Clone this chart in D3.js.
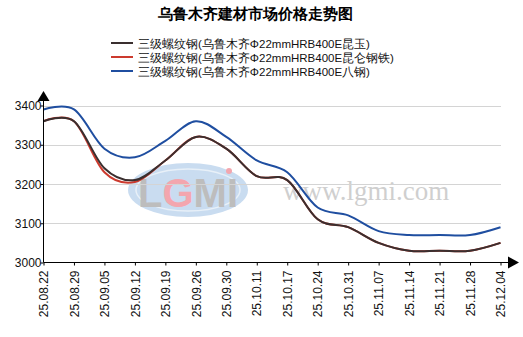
<!DOCTYPE html>
<html>
<head>
<meta charset="utf-8">
<script src="https://cdn.jsdelivr.net/npm/d3@7"></script>
<style>
  body { margin: 0; background: #fff; }
  svg { display: block; font-family: "Liberation Sans", Arial, sans-serif; }
</style>
</head>
<body>
<svg id="chart" width="523" height="337"></svg>
<script>
// dates on the x axis
const dates = ["25.08.22", "25.08.29", "25.09.05", "25.09.12", "25.09.19", "25.09.26",
  "25.09.30", "25.10.11", "25.10.17", "25.10.24", "25.10.31", "25.11.07",
  "25.11.14", "25.11.21", "25.11.28", "25.12.04"];

// series values (yuan/t)
const kunyu   = [3360, 3360, 3240, 3210, 3260, 3320, 3290, 3220, 3210, 3110, 3090, 3050, 3030, 3030, 3030, 3050];
const kunlun  = [3360, 3360, 3230, 3205, 3260, 3320, 3290, 3220, 3210, 3110, 3090, 3050, 3030, 3030, 3030, 3050];
const bagang  = [3390, 3390, 3290, 3268, 3310, 3360, 3320, 3260, 3230, 3140, 3120, 3080, 3070, 3070, 3070, 3090];

const yTicks = [3000, 3100, 3200, 3300, 3400];

const seriesNames = [
  "三级螺纹钢(乌鲁木齐Φ22mmHRB400E昆玉)",
  "三级螺纹钢(乌鲁木齐Φ22mmHRB400E昆仑钢铁)",
  "三级螺纹钢(乌鲁木齐Φ22mmHRB400E八钢)"
];
const seriesColors = ["#3a2f2f", "#cc3a2e", "#1f4ea0"];

const svg = d3.select("#chart");

const x = d3.scalePoint().domain(dates).range([43.5, 500.5]);
const y = d3.scaleLinear().domain([3000, 3400]).range([262.5, 105.5]);

// title
svg.append("text")
  .attr("x", 255).attr("y", 19)
  .attr("text-anchor", "middle")
  .style("font-size", "15px").style("font-weight", "bold")
  .text("乌鲁木齐建材市场价格走势图");

// legend
const lg = svg.append("g").attr("transform", "translate(111,43)");
seriesNames.forEach((name, i) => {
  lg.append("line")
    .attr("x1", 0).attr("x2", 22)
    .attr("y1", i * 14).attr("y2", i * 14)
    .attr("stroke", seriesColors[i]).attr("stroke-width", 2);
  lg.append("text")
    .attr("x", 27).attr("y", i * 14 + 4.5)
    .style("font-size", "11.5px").attr("fill", "#111")
    .text(name);
});

// watermark
const wm = svg.append("g");
wm.append("ellipse")
  .attr("cx", 188).attr("cy", 190).attr("rx", 60).attr("ry", 27)
  .attr("fill", "#c9dcf0");
wm.append("ellipse")
  .attr("cx", 188).attr("cy", 190).attr("rx", 52).attr("ry", 21)
  .attr("fill", "none").attr("stroke", "#e8f0f8").attr("stroke-width", 1.5);
const logo = wm.append("text")
  .attr("x", 188).attr("y", 207)
  .attr("text-anchor", "middle")
  .style("font-size", "40px").style("font-weight", "bold")
  .attr("fill", "#bdbdbd");
logo.append("tspan").text("L");
logo.append("tspan").attr("fill", "#f3a6ae").text("G");
logo.append("tspan").text("MI");
wm.append("circle").attr("cx", 229).attr("cy", 171).attr("r", 3).attr("fill", "#f3a6ae");
wm.append("text")
  .attr("x", 283).attr("y", 200)
  .style("font-family", "'Liberation Serif', 'Times New Roman', serif")
  .style("font-size", "27px").attr("fill", "#cfcfcf")
  .text("www.lgmi.com");

// gridlines
svg.append("g")
  .selectAll("line")
  .data(yTicks.filter(d => d > 3000))
  .join("line")
  .attr("x1", 43.5).attr("x2", 501)
  .attr("y1", d => Math.round(y(d)) + 0.5).attr("y2", d => Math.round(y(d)) + 0.5)
  .attr("stroke", "#d4d4d4");

// series lines
const line = d3.line()
  .x((d, i) => x(dates[i]))
  .y(d => y(d))
  .curve(d3.curveCardinal.tension(0));

[kunlun, kunyu, bagang].forEach((vals, k) => {
  const idx = [1, 0, 2][k];
  svg.append("path")
    .attr("d", line(vals))
    .attr("fill", "none")
    .attr("stroke", seriesColors[idx])
    .attr("stroke-width", 2);
});

// y axis
const yAxis = d3.axisLeft(y).tickValues(yTicks).tickSize(3).tickFormat(d3.format("d"));
const gy = svg.append("g").attr("transform", "translate(43.5,0)").call(yAxis);
gy.select(".domain").remove();
gy.selectAll("text").attr("x", -2).attr("dy", "0.35em").style("font-size", "12px").attr("fill", "#111");
svg.append("line")
  .attr("x1", 43.5).attr("x2", 43.5).attr("y1", 262.5).attr("y2", 100)
  .attr("stroke", "#000");
svg.append("path").attr("d", "M37.5,101L43.5,91L49.5,101Z").attr("fill", "#000");

// x axis
const xAxis = d3.axisBottom(x).tickSize(3);
const gx = svg.append("g").attr("transform", "translate(0,262.5)").call(xAxis);
gx.select(".domain").remove();
gx.selectAll("text")
  .attr("transform", "rotate(-90)")
  .attr("x", -8).attr("y", 0).attr("dy", "0.35em")
  .attr("text-anchor", "end")
  .style("font-size", "12px").attr("fill", "#111");
svg.append("line")
  .attr("x1", 43.5).attr("x2", 510).attr("y1", 262.5).attr("y2", 262.5)
  .attr("stroke", "#000");
svg.append("path").attr("d", "M508,256.5L519,262.5L508,268.5Z").attr("fill", "#000");
</script>
</body>
</html>
